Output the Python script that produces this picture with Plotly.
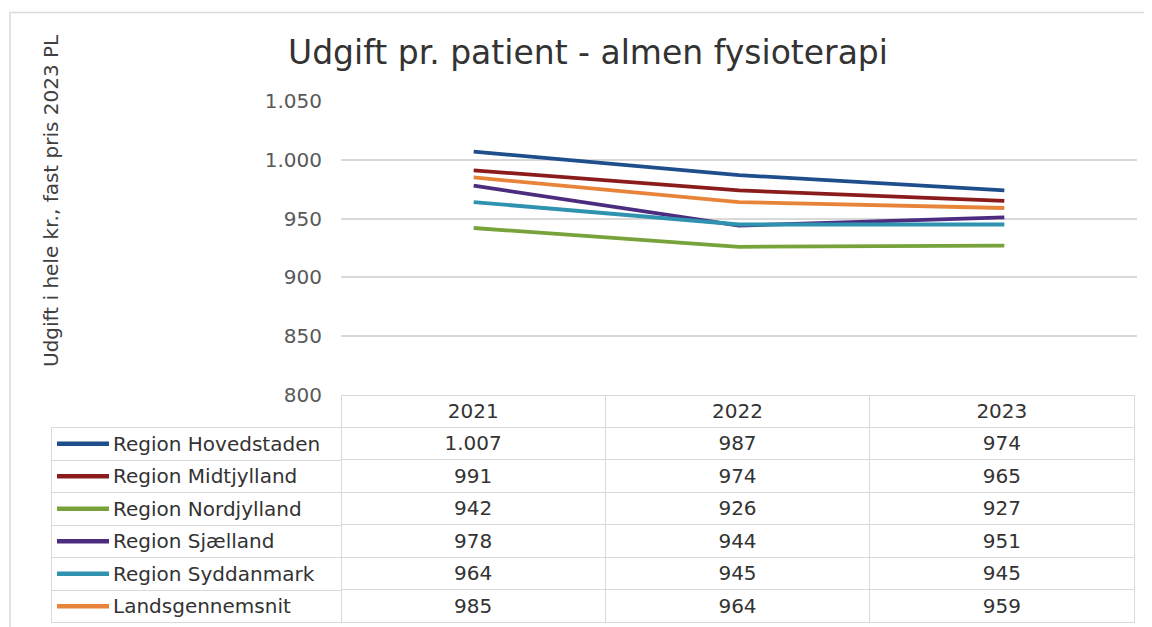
import plotly.graph_objects as go

W, H = 1152, 627
OX, OY = 8, 8  # page body offset compensation

years = ["2021", "2022", "2023"]
series_names = ["Region Hovedstaden", "Region Midtjylland", "Region Nordjylland",
                "Region Sjælland", "Region Syddanmark", "Landsgennemsnit"]
hovedstaden = [1007, 987, 974]
midtjylland = [991, 974, 965]
nordjylland = [942, 926, 927]
sjaelland = [978, 944, 951]
syddanmark = [964, 945, 945]
landsgennemsnit = [985, 964, 959]
colors = ["#1f4e8c", "#8b1c1c", "#77a33a", "#4b2c7f", "#2f93b0", "#e8843a"]
y_ticks = [800, 850, 900, 950, 1000, 1050]

values = [hovedstaden, midtjylland, nordjylland, sjaelland, syddanmark, landsgennemsnit]


def px_x(p):
    return (p - OX) / W


def px_y(p):
    return 1 - (p - OY) / H


def fmt(v):
    return f"{v:,}".replace(",", ".")


fig = go.Figure()

# main lines
for name, vals, col in zip(series_names, values, colors):
    fig.add_trace(go.Scatter(x=years, y=vals, mode="lines", name=name,
                             line=dict(color=col, width=3.8), showlegend=False,
                             xaxis="x", yaxis="y"))

# legend keys inside the table
for name, col in zip(series_names, colors):
    fig.add_trace(go.Scatter(x=[0, 1], y=[name, name], mode="lines",
                             line=dict(color=col, width=4.5), showlegend=False,
                             xaxis="x2", yaxis="y2", hoverinfo="skip"))

grid = "#d9d9d9"
txt = "#333333"
tfont = dict(family="DejaVu Sans", size=20, color=txt)
ROW_H = 32.5

# year value table
fig.add_trace(go.Table(
    domain=dict(x=[px_x(341), px_x(1134)], y=[0, px_y(395)]),
    columnwidth=[1, 1, 1],
    header=dict(values=years, height=32, align="center",
                fill=dict(color="rgba(0,0,0,0)"), line=dict(color=grid, width=1),
                font=tfont),
    cells=dict(values=[[fmt(v[i]) for v in values] for i in range(3)],
               height=ROW_H, align="center",
               fill=dict(color="rgba(0,0,0,0)"), line=dict(color=grid, width=1),
               font=tfont),
))

# label table (first label used as header row, styled like a cell)
pad = "\u2003\u2003\u2002\u2009"
labels = [pad + n for n in series_names]
fig.add_trace(go.Table(
    domain=dict(x=[px_x(51), px_x(341)], y=[0, px_y(427.5)]),
    header=dict(values=[labels[0]], height=ROW_H, align="left",
                fill=dict(color="rgba(0,0,0,0)"), line=dict(color=grid, width=1),
                font=tfont),
    cells=dict(values=[labels[1:]], height=ROW_H, align="left",
               fill=dict(color="rgba(0,0,0,0)"), line=dict(color=grid, width=1),
               font=tfont),
))

fig.update_layout(
    width=W, height=H,
    margin=dict(l=0, r=0, t=0, b=0, autoexpand=False),
    paper_bgcolor="white", plot_bgcolor="white",
    separators=",.",
    title=dict(text="Udgift pr. patient - almen fysioterapi",
               x=px_x(588), xref="paper", xanchor="center",
               y=px_y(52), yref="paper", yanchor="middle",
               font=dict(family="DejaVu Sans", size=33, color=txt)),
    xaxis=dict(domain=[px_x(341), px_x(1137)], type="category",
               range=[-0.5, 2.5], showticklabels=False, showgrid=False,
               zeroline=False, showline=False, fixedrange=True),
    yaxis=dict(domain=[px_y(395), px_y(101)], range=[800, 1050],
               tickvals=y_ticks, tickformat=",.0f",
               showgrid=True, gridcolor=grid, gridwidth=1.5,
               zeroline=False, showline=False, ticks="",
               ticklabelstandoff=18, fixedrange=True,
               tickfont=dict(family="DejaVu Sans", size=20, color="#595959")),
    xaxis2=dict(domain=[px_x(57), px_x(109)], range=[0, 1], visible=False,
                anchor="y2", fixedrange=True),
    yaxis2=dict(domain=[px_y(622.5), px_y(427.5)], type="category",
                categoryorder="array", categoryarray=series_names,
                range=[len(series_names) - 0.5, -0.5],
                visible=False, anchor="x2", fixedrange=True),
    annotations=[dict(text="Udgift i hele kr., fast pris 2023 PL",
                      x=px_x(51), y=px_y(201), xref="paper", yref="paper",
                      textangle=-90, showarrow=False, xanchor="center", yanchor="middle",
                      font=dict(family="DejaVu Sans", size=20, color="#404040"))],
    shapes=[dict(type="rect", xref="paper", yref="paper",
                 x0=px_x(10), x1=px_x(1175), y0=px_y(660), y1=px_y(12.5),
                 line=dict(color="#d9d9d9", width=1.5), fillcolor="rgba(0,0,0,0)",
                 layer="below")],
)

fig.write_html("out.html")
